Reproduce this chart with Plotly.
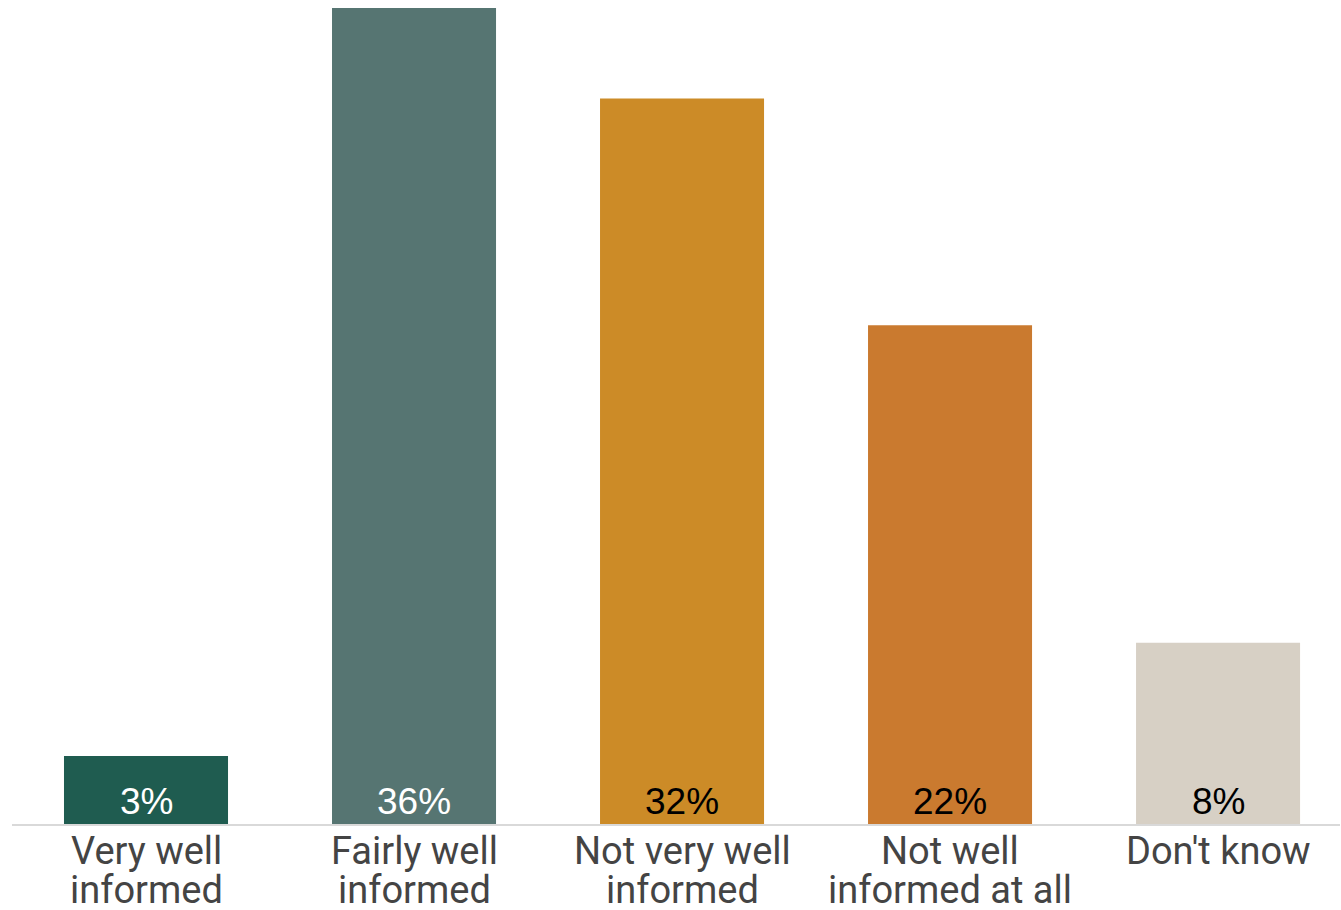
import plotly.graph_objects as go

# Survey responses: how well informed people feel
categories = ["Very well informed", "Fairly well informed", "Not very well informed",
              "Not well informed at all", "Don't know"]
label_line1 = ["Very well", "Fairly well", "Not very well", "Not well", "Don't know"]
label_line2 = ["informed", "informed", "informed", "informed at all", ""]
values = [3, 36, 32, 22, 8]
bar_colors = ["#1f5c50", "#567572", "#cc8b27", "#ca7a2f", "#d7d0c5"]
value_text_colors = ["#ffffff", "#ffffff", "#000000", "#000000", "#000000"]

x_pos = list(range(len(categories)))

fig = go.Figure(go.Bar(
    x=x_pos,
    y=values,
    marker=dict(color=bar_colors, line=dict(width=0)),
    width=0.612,
    hoverinfo="skip",
))

annotations = []
# Percentage labels sitting at the base of each bar
for xi, v, c in zip(x_pos, values, value_text_colors):
    annotations.append(dict(
        x=xi, y=0, xref="x", yref="y", text=f"{v}%", showarrow=False,
        yanchor="middle", yshift=23,
        font=dict(family="Liberation Sans, Arial, sans-serif", size=37, color=c),
    ))
# Two-line category labels under the axis
for xi, l1, l2 in zip(x_pos, label_line1, label_line2):
    annotations.append(dict(
        x=xi, y=0, xref="x", yref="paper", text=l1, showarrow=False,
        yanchor="middle", yshift=-27,
        font=dict(family="Roboto, sans-serif", size=38, color="#444444"),
    ))
    if l2:
        annotations.append(dict(
            x=xi, y=0, xref="x", yref="paper", text=l2, showarrow=False,
            yanchor="middle", yshift=-66,
            font=dict(family="Roboto, sans-serif", size=38, color="#444444"),
        ))

fig.update_layout(
    width=1341, height=910,
    margin=dict(l=12, r=1, t=0, b=86),
    paper_bgcolor="white", plot_bgcolor="white",
    showlegend=False,
    annotations=annotations,
    xaxis=dict(range=[-0.5, 4.455], showticklabels=False, showgrid=False,
               zeroline=False, showline=True, linecolor="#d9d9d9", linewidth=2,
               ticks="", fixedrange=True),
    yaxis=dict(range=[0, 36.35], visible=False, showgrid=False, zeroline=False,
               fixedrange=True),
)

fig.write_html("out.html", config={"displayModeBar": False})
